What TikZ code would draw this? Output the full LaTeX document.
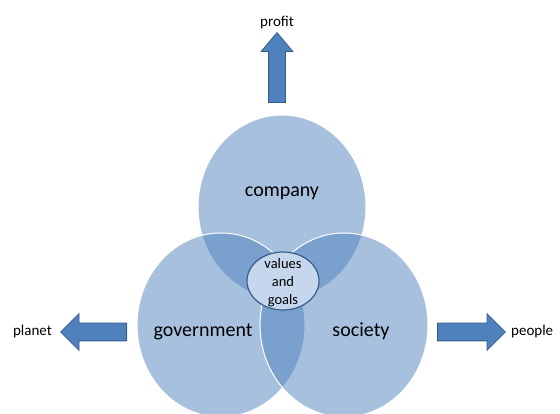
\documentclass[tikz,border=0pt]{standalone}
\usepackage{fontspec}
\setmainfont{Carlito}
\usetikzlibrary{shapes.geometric}
\usetikzlibrary{shapes.arrows}
\usetikzlibrary{positioning}
\definecolor{venn-blue}{RGB}{79, 129, 189}
\definecolor{arrow-edge}{RGB}{56, 93, 138}
\definecolor{core-fill}{RGB}{198, 215, 237}

\begin{document}
\begin{tikzpicture}[x=1pt, y=1pt,
    venn/.style={ellipse, minimum width=168pt, minimum height=184pt, inner sep=0pt,
        fill=venn-blue, fill opacity=0.5, draw=white, line width=1pt},
    bigarrow/.style={single arrow, draw=arrow-edge, fill=venn-blue, line width=0.8pt,
        inner xsep=0pt, single arrow head indent=0pt, anchor=tail},
    biglabel/.style={font=\fontsize{20}{24}\selectfont, anchor=base, inner sep=0pt},
    smalllabel/.style={font=\fontsize{15}{18}\selectfont, inner sep=0pt}]
\useasboundingbox (0,0) rectangle (560,414);

% the three circles
\node[venn] (company) at (282,207) {};
\node[venn] (government) at (221,89) {};
\node[venn] (society) at (344,89) {};

\node[biglabel] (companyText) at (282,217) {company};
\node[biglabel] (governmentText) at (203,77) {government};
\node[biglabel] (societyText) at (361,77) {society};

% core
\node[ellipse, minimum width=72pt, minimum height=58pt, inner sep=0pt,
    fill=core-fill, draw=arrow-edge, line width=1.2pt] (core) at (283,133) {};
\node[align=center, inner sep=0pt, font=\fontsize{14.5}{18}\selectfont] (coreText) at (283,131) {values\\and\\goals};

% arrows
\node[bigarrow, rotate=90, minimum height=70pt, inner ysep=8pt,
    single arrow head extend=7.5pt, single arrow tip angle=80] (profitArrow) at (277,311) {};
\node[bigarrow, rotate=180, minimum height=66pt, inner ysep=8.5pt,
    single arrow head extend=9.5pt, single arrow tip angle=90] (planetArrow) at (127,82) {};
\node[bigarrow, minimum height=68pt, inner ysep=8.5pt,
    single arrow head extend=9.5pt, single arrow tip angle=90] (peopleArrow) at (437,82) {};

\node[smalllabel, above=3pt of profitArrow.tip] (profit) {profit};
\node[smalllabel, left=8pt of planetArrow.tip] (planet) {planet};
\node[smalllabel, right=5pt of peopleArrow.tip] (people) {people};

\end{tikzpicture}
\end{document}
